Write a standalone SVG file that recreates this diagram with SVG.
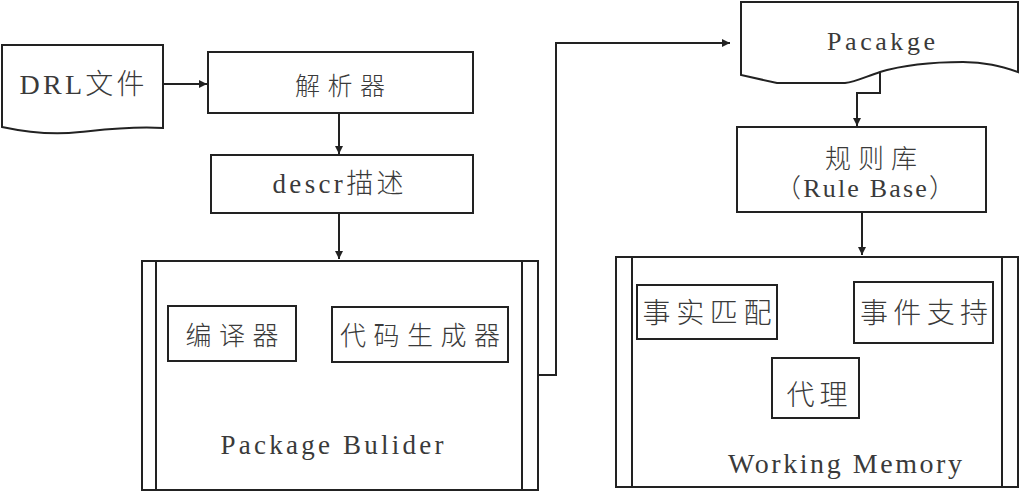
<svg xmlns="http://www.w3.org/2000/svg" width="1020" height="493" viewBox="0 0 1020 493">
<style>
.s{fill:#fff;stroke:#222;stroke-width:2}
.l{fill:none;stroke:#222;stroke-width:2}
text{font-family:"Liberation Serif","Noto Sans CJK SC",serif;fill:#3a3a3a;text-anchor:middle;font-weight:300}
</style>
<defs>
<marker id="a" viewBox="0 0 10 10" refX="10" refY="5" markerWidth="8" markerHeight="8" markerUnits="userSpaceOnUse" orient="auto">
<path d="M0,0 L10,5 L0,10 z" fill="#222"/>
</marker>
</defs>
<rect width="1020" height="493" fill="#fff"/>
<g id="connectors">
<path class="l" d="M163,84 H207" marker-end="url(#a)"/>
<path class="l" d="M339,113 V154" marker-end="url(#a)"/>
<path class="l" d="M339,213 V259" marker-end="url(#a)"/>
<path class="l" d="M538,375 H556 V43 H730" marker-end="url(#a)"/>
<path class="l" d="M880,72 V93 H857 V126" marker-end="url(#a)"/>
<path class="l" d="M862,212 V255" marker-end="url(#a)"/>
</g>
<g id="drl">
<path class="s" d="M2,45 H163 V128 C130,126 100,130 80,132 C55,135 30,133 2,127 Z"/>
<text x="82" y="94" font-size="28" textLength="125" lengthAdjust="spacing">DRL文件</text>
</g>
<g id="parser">
<rect class="s" x="208" y="52" width="265" height="61"/>
<text x="340" y="95" font-size="25" textLength="90" lengthAdjust="spacing">解析器</text>
</g>
<g id="descr">
<rect class="s" x="211" y="155" width="262" height="58"/>
<text x="338" y="193" font-size="27" textLength="131" lengthAdjust="spacing">descr描述</text>
</g>
<g id="package-builder">
<rect class="s" x="142" y="261" width="396" height="229"/>
<path class="l" d="M156,261 V490 M522,261 V490"/>
<text x="332" y="454" font-size="27" textLength="223" lengthAdjust="spacing">Package Bulider</text>
</g>
<g id="compiler">
<rect class="s" x="168" y="306" width="128" height="55"/>
<text x="232" y="345" font-size="26" textLength="93" lengthAdjust="spacing">编译器</text>
</g>
<g id="codegen">
<rect class="s" x="332" y="307" width="176" height="55"/>
<text x="420" y="345" font-size="26" textLength="160" lengthAdjust="spacing">代码生成器</text>
</g>
<g id="package">
<path class="s" d="M741,2 H1018 V72 C1000,66 985,62 963,62 C930,62 900,66 880,72 C865,77 855,82 845,83 H777 L741,75 Z"/>
<text x="881" y="50" font-size="26" textLength="108" lengthAdjust="spacing">Pacakge</text>
</g>
<g id="rulebase">
<rect class="s" x="737" y="127" width="249" height="85"/>
<text x="871" y="168" font-size="26" textLength="92" lengthAdjust="spacing">规则库</text>
<text x="865" y="197" font-size="26" textLength="180" lengthAdjust="spacing">（Rule Base）</text>
</g>
<g id="working-memory">
<rect class="s" x="616" y="257" width="402" height="230"/>
<path class="l" d="M632,257 V487 M1002,257 V487"/>
<text x="845" y="473" font-size="28" textLength="234" lengthAdjust="spacing">Working Memory</text>
</g>
<g id="fact-match">
<rect class="s" x="637" y="285" width="140" height="54"/>
<text x="707" y="323" font-size="28" textLength="129" lengthAdjust="spacing">事实匹配</text>
</g>
<g id="event-support">
<rect class="s" x="854" y="282" width="139" height="61"/>
<text x="924" y="323" font-size="28" textLength="128" lengthAdjust="spacing">事件支持</text>
</g>
<g id="agent">
<rect class="s" x="772" y="358" width="87" height="60"/>
<text x="817" y="405" font-size="28" textLength="61" lengthAdjust="spacing">代理</text>
</g>
</svg>
